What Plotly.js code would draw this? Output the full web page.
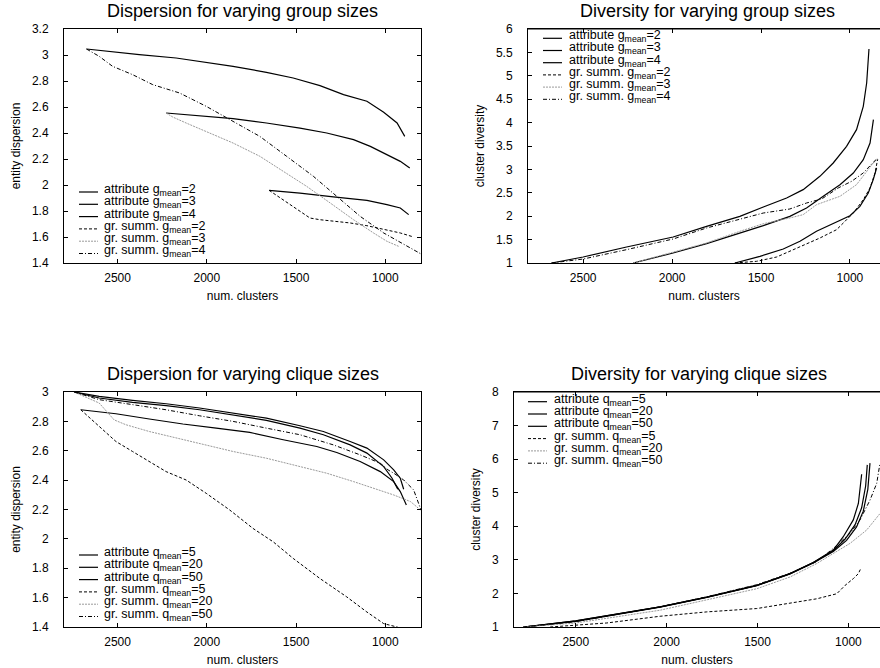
<!DOCTYPE html>
<html>
<head>
<meta charset="utf-8">
<script src="https://cdn.plot.ly/plotly-3.0.1.min.js"></script>
<style>html,body{margin:0;padding:0;background:#fff;overflow:hidden}#chart{width:880px;height:668px}</style>
</head>
<body>
<div id="chart"></div>
<script>
// ---------- Data: Dispersion for varying group sizes ----------
const tlAttr2X = [1651,1478,1291,1103,991,916,869];
const tlAttr2Y = [1.959,1.938,1.908,1.882,1.849,1.823,1.772];
const tlAttr3X = [2228,2041,1853,1666,1478,1328,1178,1084,991,916,863];
const tlAttr3Y = [2.554,2.533,2.510,2.477,2.438,2.400,2.349,2.297,2.233,2.182,2.131];
const tlAttr4X = [2674,2509,2378,2172,2003,1853,1666,1516,1366,1234,1103,1009,934,891];
const tlAttr4Y = [3.046,3.020,3.003,2.977,2.944,2.913,2.867,2.823,2.764,2.695,2.644,2.559,2.477,2.374];
const tlGs2X = [1651,1516,1422,1366,1197,1103,991,916,841];
const tlGs2Y = [1.959,1.836,1.746,1.733,1.708,1.687,1.656,1.631,1.600];
const tlGs3X = [2228,2191,2116,2003,1853,1703,1572,1441,1309,1178,1066,991,925];
const tlGs3Y = [2.554,2.523,2.477,2.413,2.323,2.221,2.105,1.990,1.862,1.733,1.631,1.567,1.528];
const tlGs4X = [2674,2603,2528,2416,2303,2153,2003,1853,1703,1553,1403,1272,1141,1009,897,803];
const tlGs4Y = [3.046,2.990,2.913,2.849,2.772,2.708,2.605,2.490,2.374,2.221,2.067,1.913,1.759,1.631,1.541,1.472];

// ---------- Data: Diversity for varying group sizes ----------
const trAttr2X = [1647,1506,1375,1281,1188,1094,1000,944,897,869,850];
const trAttr2Y = [1.0,1.142,1.299,1.463,1.677,1.840,2.011,2.211,2.496,2.781,3.03];
const trAttr3X = [2219,1994,1806,1619,1487,1338,1244,1150,1056,981,925,887,868];
const trAttr3Y = [1.0,1.214,1.413,1.641,1.798,1.997,2.175,2.425,2.674,2.923,3.208,3.564,4.063];
const trAttr4X = [2678,2500,2256,1994,1806,1619,1487,1356,1263,1169,1094,1019,963,925,906,893];
const trAttr4Y = [1.0,1.128,1.342,1.556,1.783,1.997,2.197,2.389,2.567,2.852,3.137,3.493,3.849,4.348,4.846,5.573];
const trGs2X = [1647,1525,1412,1281,1169,1075,981,925,887,859,844];
const trGs2Y = [1.0,1.036,1.128,1.342,1.534,1.712,2.068,2.353,2.603,2.923,3.22];
const trGs3X = [2219,1994,1806,1619,1487,1338,1263,1188,1056,963,906,869,844];
const trGs3Y = [1.0,1.228,1.427,1.677,1.840,1.962,2.033,2.246,2.425,2.674,2.959,3.137,3.22];
const trGs4X = [2678,2500,2256,1994,1806,1619,1487,1338,1244,1159,1066,991,925,869,844];
const trGs4Y = [1.0,1.085,1.285,1.513,1.748,1.926,2.068,2.154,2.282,2.368,2.603,2.745,2.923,3.151,3.24];

// ---------- Data: Dispersion for varying clique sizes ----------
const blAttr5X = [2706,2509,2322,2134,1947,1759,1572,1384,1272,1141,1028,953,916,882];
const blAttr5Y = [2.879,2.852,2.816,2.782,2.754,2.725,2.675,2.629,2.588,2.527,2.458,2.390,2.322,2.231];
const blAttr20X = [2744,2603,2416,2228,2041,1853,1666,1478,1347,1197,1103,1009,953,916,897];
const blAttr20Y = [3.0,2.970,2.943,2.920,2.891,2.857,2.822,2.770,2.731,2.663,2.618,2.538,2.470,2.413,2.338];
const blAttr50X = [2744,2603,2416,2228,2041,1853,1666,1478,1347,1197,1103,1009,962,930];
const blAttr50Y = [3.0,2.959,2.929,2.907,2.879,2.845,2.807,2.754,2.709,2.640,2.584,2.492,2.413,2.338];
const blGs5X = [2706,2603,2509,2416,2322,2228,2116,2003,1872,1741,1628,1516,1366,1216,1103,1009,934,900];
const blGs5Y = [2.879,2.766,2.663,2.595,2.527,2.458,2.401,2.310,2.197,2.071,1.980,1.867,1.730,1.605,1.502,1.423,1.400,1.380];
const blGs20X = [2744,2603,2519,2453,2322,2172,2003,1853,1666,1478,1328,1178,1066,953,859,803];
const blGs20Y = [3.0,2.925,2.810,2.777,2.731,2.686,2.640,2.595,2.549,2.492,2.447,2.390,2.345,2.299,2.254,2.197];
const blGs50X = [2744,2603,2416,2228,2041,1853,1666,1478,1291,1141,1028,985,953,897,841,800];
const blGs50Y = [3.0,2.948,2.914,2.879,2.838,2.800,2.754,2.709,2.640,2.572,2.515,2.470,2.447,2.401,2.333,2.197];

// ---------- Data: Diversity for varying clique sizes ----------
const brAttr5X = [2788,2500,2036,1779,1504,1321,1193,1083,1028,973,945,927];
const brAttr5Y = [1.0,1.18,1.6,1.89,2.24,2.59,2.92,3.29,3.69,4.19,4.68,5.55];
const brAttr20X = [2788,2500,2036,1779,1504,1321,1193,1083,1018,963,927,905,896];
const brAttr20Y = [1.0,1.18,1.6,1.89,2.24,2.59,2.92,3.27,3.62,4.05,4.55,5.2,5.83];
const brAttr50X = [2788,2500,2036,1779,1504,1321,1193,1083,1010,955,918,893,881];
const brAttr50Y = [1.0,1.17,1.59,1.88,2.23,2.58,2.91,3.25,3.58,3.98,4.45,5.1,5.88];
const brGs5X = [2641,2329,2036,1779,1504,1321,1174,1064,1018,973,945,932];
const brGs5Y = [1.0,1.12,1.32,1.45,1.55,1.70,1.84,1.99,2.24,2.44,2.59,2.74];
const brGs20X = [2788,2500,2036,1779,1504,1321,1174,1083,991,899,826];
const brGs20Y = [1.0,1.12,1.5,1.8,2.14,2.49,2.89,3.19,3.49,3.89,4.38];
const brGs50X = [2788,2500,2036,1779,1504,1321,1174,1083,991,936,881,844,826];
const brGs50Y = [1.0,1.16,1.6,1.9,2.26,2.6,2.95,3.34,3.79,4.19,4.78,5.28,5.88];

// ---------- Labels ----------
const groupNames = ['attribute g<sub>mean</sub>=2','attribute g<sub>mean</sub>=3','attribute g<sub>mean</sub>=4',
                    'gr. summ. g<sub>mean</sub>=2','gr. summ. g<sub>mean</sub>=3','gr. summ. g<sub>mean</sub>=4'];
const cliqueNames = ['attribute q<sub>mean</sub>=5','attribute q<sub>mean</sub>=20','attribute q<sub>mean</sub>=50',
                     'gr. summ. q<sub>mean</sub>=5','gr. summ. q<sub>mean</sub>=20','gr. summ. q<sub>mean</sub>=50'];
const panelTitles = ['Dispersion for varying group sizes','Diversity for varying group sizes',
                     'Dispersion for varying clique sizes','Diversity for varying clique sizes'];
const xTitle = 'num. clusters';
const yTitles = ['entity dispersion','cluster diversity','entity dispersion','cluster diversity'];

// ---------- Styles ----------
const styles = [
  {color:'#000', width:1.2, dash:'solid'},
  {color:'#000', width:1.2, dash:'solid'},
  {color:'#000', width:1.2, dash:'solid'},
  {color:'#000', width:1, dash:'3px,2px'},
  {color:'#9a9a9a', width:1, dash:'2px,1px'},
  {color:'#000', width:1, dash:'4px,2px,1px,2px'}
];

const W = 880, H = 668;
const px = x => x / W;
const py = y => 1 - y / H;

const panels = [
  {xa:'x',  ya:'y',  names:groupNames,  series:[[tlAttr2X,tlAttr2Y],[tlAttr3X,tlAttr3Y],[tlAttr4X,tlAttr4Y],[tlGs2X,tlGs2Y],[tlGs3X,tlGs3Y],[tlGs4X,tlGs4Y]],
   box:[64,421,29,263], leg:{sx0:79, sx1:98, tx:102, rows:[192,204.3,216.6,228.9,241.2,253.5]}},
  {xa:'x2', ya:'y2', names:groupNames,  series:[[trAttr2X,trAttr2Y],[trAttr3X,trAttr3Y],[trAttr4X,trAttr4Y],[trGs2X,trGs2Y],[trGs3X,trGs3Y],[trGs4X,trGs4Y]],
   box:[528,880,29,263], leg:{sx0:543, sx1:562, tx:567, rows:[38.3,50.5,62.7,74.9,87.1,99.3]}},
  {xa:'x3', ya:'y3', names:cliqueNames, series:[[blAttr5X,blAttr5Y],[blAttr20X,blAttr20Y],[blAttr50X,blAttr50Y],[blGs5X,blGs5Y],[blGs20X,blGs20Y],[blGs50X,blGs50Y]],
   box:[64,421,392,627], leg:{sx0:79, sx1:98, tx:102, rows:[555,567.3,579.6,591.9,604.2,616.5]}},
  {xa:'x4', ya:'y4', names:cliqueNames, series:[[brAttr5X,brAttr5Y],[brAttr20X,brAttr20Y],[brAttr50X,brAttr50Y],[brGs5X,brGs5Y],[brGs20X,brGs20Y],[brGs50X,brGs50Y]],
   box:[514,880,392,627], leg:{sx0:528, sx1:547, tx:552, rows:[401.7,414,426.3,438.6,450.9,463.2]}}
];

const xRanges = [[2800,800],[2810,831],[2800,800],[2840,826]];
const yRanges = [[1.4,3.2],[1,6],[1.4,3],[1,8]];
const yDticks = [0.2,0.5,0.2,1];

const FONT = 'Liberation Sans, Arial, Helvetica, sans-serif';
const traces = [];
const shapes = [];
const annotations = [];
const layout = {
  width: W, height: H,
  margin: {l:0, r:0, t:0, b:0},
  paper_bgcolor: '#fff', plot_bgcolor: '#fff',
  showlegend: false,
  font: {family: FONT, size: 12, color: '#000'},
  shapes: shapes, annotations: annotations
};

panels.forEach((p, i) => {
  p.series.forEach((s, k) => {
    traces.push({
      type:'scatter', mode:'lines', x:s[0], y:s[1], name:p.names[k],
      xaxis:p.xa, yaxis:p.ya, line:Object.assign({}, styles[k]), hoverinfo:'name+x+y'
    });
    // legend sample + label
    const ry = p.leg.rows[k];
    shapes.push({type:'line', xref:'paper', yref:'paper', x0:px(p.leg.sx0), x1:px(p.leg.sx1), y0:py(ry), y1:py(ry),
      line:Object.assign({}, styles[k])});
    annotations.push({xref:'paper', yref:'paper', x:px(p.leg.tx), y:py(ry), xanchor:'left', yanchor:'middle',
      text:p.names[k], showarrow:false, font:{family:FONT, size:12.5, color:'#000'}, yshift:2});
  });
  const [l, r, t, b] = p.box;
  const xKey = 'xaxis' + (i === 0 ? '' : (i + 1));
  const yKey = 'yaxis' + (i === 0 ? '' : (i + 1));
  const cropped = (i === 1 || i === 3);
  layout[xKey] = {
    domain:[px(l), px(r)], anchor:p.ya, range:xRanges[i], dtick:500, tick0:0,
    showgrid:false, zeroline:false, showline:true, linecolor:'#000', linewidth:1,
    mirror:'ticks', ticks:'inside', ticklen:4, tickcolor:'#000', ticklabelstandoff:4,
    tickfont:{family:FONT, size:12, color:'#000'},
    title:{text:xTitle, font:{family:FONT, size:12, color:'#000'}, standoff:7}
  };
  layout[yKey] = {
    domain:[py(b), py(t)], anchor:p.xa, range:yRanges[i], dtick:yDticks[i], tick0:0,
    showgrid:false, zeroline:false, showline:true, linecolor:'#000', linewidth:1,
    mirror: cropped ? false : 'ticks', ticks:'inside', ticklen:4, tickcolor:'#000', ticklabelstandoff:12,
    tickfont:{family:FONT, size:12, color:'#000'},
    title:{text:yTitles[i], font:{family:FONT, size:12, color:'#000'}, standoff:8}
  };
  if (cropped) {
    // top border line (right border falls outside the cropped picture)
    shapes.push({type:'line', xref:'paper', yref:'paper', x0:px(l), x1:px(r), y0:py(t), y1:py(t), line:{color:'#000', width:1}});
  }
  const titleCx = cropped ? (l + (i === 1 ? 886 : 884)) / 2 : (l + r) / 2;
  annotations.push({xref:'paper', yref:'paper', x:px(titleCx), y:py(t - 18), xanchor:'center', yanchor:'middle',
    text:panelTitles[i], showarrow:false, font:{family:FONT, size:18, color:'#000'}});
});

Plotly.newPlot('chart', traces, layout, {staticPlot:false, displayModeBar:false});
</script>
</body>
</html>
